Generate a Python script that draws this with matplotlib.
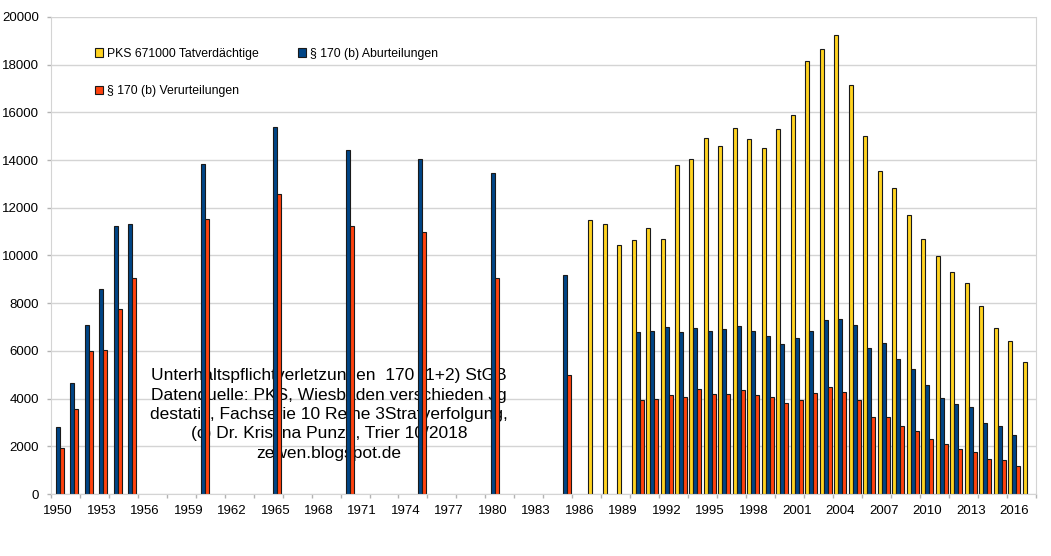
import numpy as np
import pandas as pd
import matplotlib
matplotlib.use("Agg")
import matplotlib.pyplot as plt

plt.rcParams['font.family'] = ['Liberation Sans', 'DejaVu Sans']

years = list(range(1950, 2018))

pks_years = list(range(1987, 2018))
pks_vals = [11470, 11300, 10460, 10660, 11160, 10700, 13790, 14060, 14920, 14610,
            15340, 14870, 14500, 15310, 15870, 18160, 18660, 19260, 17150, 15030,
            13560, 12810, 11690, 10700, 9960, 9300, 8840, 7900, 6980, 6420, 5540]

abu_years = [1950, 1951, 1952, 1953, 1954, 1955, 1960, 1965, 1970, 1975, 1980, 1985] + list(range(1990, 2017))
abu_vals = [2830, 4660, 7070, 8600, 11250, 11330, 13850, 15370, 14430, 14060, 13440, 9170,
            6780, 6840, 6990, 6810, 6940, 6840, 6910, 7050, 6850, 6620,
            6290, 6560, 6830, 7290, 7320, 7080, 6130, 6350, 5650, 5230,
            4550, 4010, 3760, 3660, 2990, 2840, 2460]

veru_years = abu_years
veru_vals = [1940, 3560, 5980, 6030, 7750, 9050, 11520, 12590, 11230, 10990, 9050, 4970,
             3930, 3990, 4140, 4070, 4420, 4200, 4200, 4340, 4140, 4060,
             3820, 3960, 4250, 4490, 4270, 3930, 3230, 3230, 2850, 2640,
             2310, 2100, 1900, 1750, 1480, 1430, 1190]

labels = ["PKS 671000 Tatverdächtige", "§ 170 (b) Aburteilungen", "§ 170 (b) Verurteilungen"]
colors = ["#ffd320", "#004586", "#ff420e"]

df = pd.DataFrame(index=years)
df["pks"] = pd.Series(pks_vals, index=pks_years)
df["abu"] = pd.Series(abu_vals, index=abu_years)
df["veru"] = pd.Series(veru_vals, index=veru_years)

fig = plt.figure(figsize=(10.51, 5.56), dpi=100)
ax = fig.add_axes([0.0483, 0.1115, 0.9374, 0.858])

x = np.arange(len(years))
w = 0.276
bars = []
for k, col in enumerate(["pks", "abu", "veru"]):
    b = ax.bar(x + (k - 1) * w, df[col].values, width=w, color=colors[k],
               edgecolor="#1a1a1a", linewidth=0.8, zorder=2, label=labels[k])
    bars.append(b)

ax.set_xlim(-0.5, len(years) - 0.5)
ax.set_ylim(0, 20000)
ax.set_yticks(range(0, 20001, 2000))
ax.yaxis.grid(True, color="#d4d4d4", linewidth=1, zorder=0)
ax.set_axisbelow(True)

ax.set_xticks(x[::3])
ax.set_xticklabels([str(y) for y in years[::3]])
ax.set_xticks(np.arange(-0.5, len(years), 2), minor=True)
ax.tick_params(axis="x", which="major", length=0, pad=8, labelsize=9.5)
ax.tick_params(axis="x", which="minor", length=3, color="#b3b3b3", width=1)
ax.tick_params(axis="y", length=3, color="#b3b3b3", width=1, pad=5.5, labelsize=9.5)

for s in ["left", "bottom", "right"]:
    ax.spines[s].set_color("#d4d4d4")
ax.spines["top"].set_visible(False)

ax.text(18.7, 3330,
        "Unterhaltspflichtverletzungen  170 (1+2) StGB\n"
        "Datenquelle: PKS, Wiesbaden verschieden Jg\n"
        "destatis, Fachserie 10 Reihe 3Strafverfolgung,\n"
        "(c) Dr. Kristina Punze, Trier 10/2018\n"
        "zewen.blogspot.de",
        ha="center", va="center", fontsize=12.5, linespacing=1.36, zorder=1)

h = [bars[0], bars[2], bars[1]]
l = [labels[0], labels[2], labels[1]]
fig.legend(h, l, loc="upper left", bbox_to_anchor=(0.0843, 0.925), ncol=2,
           frameon=False, fontsize=8.8, handlelength=0.7, handleheight=0.7,
           handletextpad=0.3, labelspacing=2.1, columnspacing=3.2, borderpad=0)

plt.savefig("out.png", dpi=100)
